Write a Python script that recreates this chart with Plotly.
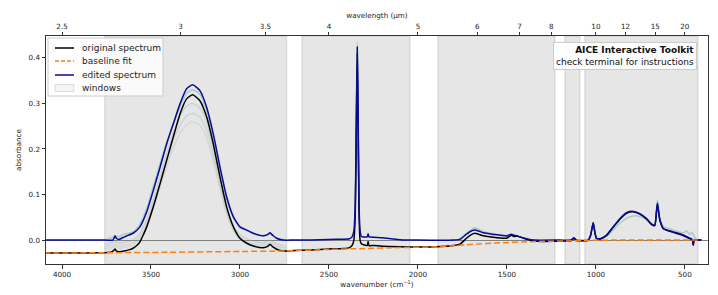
import plotly.graph_objects as go

# ---------------- data ----------------
orig_wn = [4100, 3950, 3800, 3760, 3720, 3708, 3702, 3695, 3680, 3650, 3620, 3601, 3580, 3562, 3545,
           3524, 3487, 3449, 3412, 3375, 3337, 3300, 3266, 3225, 3187, 3150, 3112, 3075, 3037, 3000,
           2962, 2925, 2869, 2845, 2831, 2815, 2794, 2757, 2720, 2600, 2500, 2420, 2385, 2370, 2360,
           2352, 2346, 2341, 2336, 2331, 2325, 2318, 2300, 2285, 2280, 2275, 2250, 2200, 2100, 2000,
           1900, 1800, 1764, 1727, 1700, 1680, 1660, 1633, 1577, 1502, 1485, 1474, 1460, 1446, 1427,
           1390, 1352, 1300, 1200, 1140, 1124, 1110, 1043, 1030, 1015, 1005, 996, 978, 960, 940,
           903, 865, 828, 790, 753, 715, 687, 669, 660, 654, 647, 640, 621, 565, 509,
           472, 458, 453, 448, 430, 405]
orig_abs = [-0.0285, -0.0283, -0.028, -0.0278, -0.026, -0.022, -0.0195, -0.024, -0.0255, -0.024, -0.021, -0.018, -0.012, -0.004, 0.01,
            0.029, 0.073, 0.124, 0.175, 0.226, 0.277, 0.31, 0.319, 0.306, 0.27, 0.211, 0.138, 0.073, 0.029, 0.004,
            -0.007, -0.013, -0.017, -0.014, -0.009, -0.015, -0.02, -0.024, -0.0235, -0.0215, -0.0195, -0.0185, -0.0165, -0.012, 0.0,
            0.06, 0.25, 0.41, 0.25, 0.06, 0.0, -0.008, -0.011, -0.012, -0.003, -0.012, -0.012, -0.0135, -0.0146, -0.0152,
            -0.0148, -0.012, -0.009, 0.004, 0.012, 0.015, 0.013, 0.0095, 0.006, 0.004, 0.008, 0.011, 0.008, 0.009, 0.007,
            0.0015, -0.0015, -0.003, -0.0022, -0.0015, 0.004, -0.001, -0.0005, 0.01, 0.0375, 0.015, 0.003, 0.002, 0.005, 0.01,
            0.028, 0.046, 0.059, 0.062, 0.057, 0.046, 0.034, 0.032, 0.06, 0.08, 0.06, 0.043, 0.025, 0.017, 0.01,
            0.003, 0.001, -0.011, 0.0, 0.0, 0.0]

base_wn = [4100, 3760, 3400, 3000, 2740, 2500, 2300, 2100, 1900, 1800, 1700, 1540, 1370, 1200, 1050, 900, 405]
base_abs = [-0.0285, -0.0278, -0.0268, -0.025, -0.0237, -0.0205, -0.0185, -0.0165, -0.0148, -0.0125, -0.0095, -0.006, -0.0036, -0.002, -0.0008, 0.0, 0.0]

edit_wn = [4100, 3760, 3715, 3708, 3702, 3695, 3680, 3660, 3637, 3601, 3562, 3524, 3487, 3449, 3412,
           3375, 3337, 3300, 3266, 3225, 3187, 3150, 3112, 3075, 3037, 3000, 2962, 2925, 2869, 2845,
           2831, 2815, 2794, 2757, 2700, 2600, 2500, 2420, 2385, 2370, 2360, 2352, 2346, 2341, 2336,
           2331, 2325, 2318, 2300, 2285, 2280, 2275, 2250, 2200, 2150, 2100, 2000, 1800, 1764, 1727,
           1700, 1680, 1660, 1633, 1577, 1502, 1485, 1474, 1460, 1446, 1427, 1390, 1352, 1200, 1140,
           1124, 1110, 1043, 1030, 1015, 1005, 996, 978, 960, 940, 903, 865, 828, 790, 753,
           715, 687, 669, 660, 654, 647, 640, 621, 565, 509, 472, 458, 453, 448, 430, 405]
edit_abs = [0.0, 0.0, 0.0, 0.004, 0.0095, 0.004, 0.0015, 0.005, 0.009, 0.015, 0.029, 0.062, 0.109, 0.16, 0.211,
            0.255, 0.299, 0.332, 0.341, 0.328, 0.291, 0.233, 0.16, 0.095, 0.051, 0.029, 0.022, 0.015, 0.0095, 0.012,
            0.016, 0.01, 0.004, 0.0, 0.0, 0.0, 0.0015, 0.002, 0.003, 0.007, 0.02, 0.08, 0.27, 0.424, 0.27,
            0.08, 0.02, 0.008, 0.007, 0.007, 0.014, 0.007, 0.006, 0.005, 0.003, 0.001, 0.0, 0.0, 0.0015, 0.013,
            0.02, 0.022, 0.02, 0.016, 0.0125, 0.009, 0.012, 0.013, 0.0105, 0.0095, 0.007, 0.003, 0.0, 0.0, 0.0,
            0.005, 0.0, 0.0, 0.01, 0.0385, 0.015, 0.004, 0.003, 0.006, 0.011, 0.029, 0.047, 0.06, 0.063, 0.058,
            0.047, 0.035, 0.033, 0.06, 0.0815, 0.06, 0.044, 0.0255, 0.018, 0.011, 0.004, 0.001, -0.011, 0.0, 0.0, 0.0]

# faint intermediate spectra (earlier edits)
band_wn = [3760, 3702, 3680, 3650, 3600, 3562, 3524, 3487, 3449, 3412, 3375, 3337, 3300, 3266,
           3225, 3187, 3150, 3112, 3075, 3037, 3000, 2962, 2925, 2869, 2831, 2794, 2757, 2740]
ghost_teal_band = [0.0, 0.008, 0.008, 0.013, 0.018, 0.035, 0.07, 0.118, 0.168, 0.215, 0.255, 0.293, 0.322, 0.33,
                   0.32, 0.285, 0.226, 0.153, 0.09, 0.049, 0.028, 0.021, 0.014, 0.009, 0.014, 0.004, 0.0, 0.0]
ghost_grey1_band = [-0.01, -0.004, -0.007, -0.005, 0.0, 0.015, 0.045, 0.09, 0.14, 0.19, 0.235, 0.272, 0.294, 0.3,
                    0.29, 0.258, 0.2, 0.132, 0.072, 0.032, 0.012, 0.003, -0.002, -0.006, 0.0, -0.008, -0.012, -0.013]
ghost_grey2_band = [-0.015, -0.01, -0.013, -0.011, -0.006, 0.008, 0.036, 0.08, 0.128, 0.175, 0.218, 0.252, 0.272, 0.278,
                    0.27, 0.24, 0.186, 0.122, 0.064, 0.026, 0.006, -0.003, -0.008, -0.011, -0.005, -0.013, -0.017, -0.018]
ghost_grey3_band = [-0.02, -0.015, -0.018, -0.016, -0.011, 0.002, 0.028, 0.07, 0.116, 0.161, 0.202, 0.234, 0.253, 0.26,
                    0.252, 0.224, 0.173, 0.112, 0.057, 0.02, 0.001, -0.008, -0.012, -0.015, -0.01, -0.017, -0.021, -0.022]

cotwo_wn = [2352, 2346, 2341, 2336, 2331]
ghost_cotwo = [0.07, 0.28, 0.433, 0.28, 0.07]

mid_wn = [1780, 1740, 1700, 1680, 1660, 1620, 1560, 1500, 1450, 1400, 1350]
ghost_mid = [0.0, 0.011, 0.023, 0.027, 0.024, 0.017, 0.013, 0.01, 0.009, 0.004, 0.0]

low_wn = [1000, 960, 940, 903, 865, 828, 790, 753, 715, 687, 669, 660, 654, 647, 640, 621, 565,
          509, 490, 472, 460, 440, 430]
ghost_low = [0.003, 0.004, 0.008, 0.022, 0.037, 0.048, 0.053, 0.052, 0.045, 0.036, 0.034, 0.065, 0.088, 0.065, 0.047, 0.03, 0.022,
             0.016, 0.02, 0.012, 0.017, 0.003, 0.0]

windows_lo = [3760, 2652, 1888, 1174, 1062]
windows_hi = [2738, 2045, 1230, 1090, 427]

legend_labels = ["original spectrum", "baseline fit", "edited spectrum", "windows"]

wl_ticks = [2.5, 3, 3.5, 4, 5, 6, 7, 8, 10, 12, 15, 20]
wn_ticks = [4000, 3500, 3000, 2500, 2000, 1500, 1000, 500]
y_ticks = [0.0, 0.1, 0.2, 0.3, 0.4]

X_RANGE = [4090, 370]
Y_RANGE = [-0.0525, 0.448]

# ---------------- layout geometry (pixels) ----------------
W, H = 718, 295
L, R, T, B = 46, 10, 36, 31
PW, PH = W - L - R, H - T - B


def px(xp):
    return (xp - L) / PW


def py(yp):
    return (H - B - yp) / PH


BLACK = "black"
ORANGE = "#ff7f0e"
BLUE = "#0a0a96"
WIN_FILL = "rgba(128,128,128,0.2)"

fig = go.Figure()

ghosts = [
    (band_wn, ghost_grey3_band, "rgba(170,170,170,0.25)"),
    (band_wn, ghost_grey2_band, "rgba(160,175,175,0.3)"),
    (band_wn, ghost_grey1_band, "rgba(140,175,170,0.3)"),
    (band_wn, ghost_teal_band, "rgba(90,175,160,0.45)"),
    (cotwo_wn, ghost_cotwo, "rgba(120,200,120,0.5)"),
    (mid_wn, ghost_mid, "rgba(90,175,160,0.45)"),
    (low_wn, ghost_low, "rgba(90,175,160,0.45)"),
]
for gx, gy, col in ghosts:
    fig.add_trace(go.Scatter(x=gx, y=gy, mode="lines", showlegend=False, hoverinfo="skip",
                             line=dict(color=col, width=1.5, shape="spline", smoothing=0.6)))

fig.add_trace(go.Scatter(x=orig_wn, y=orig_abs, mode="lines", name=legend_labels[0], showlegend=False,
                         line=dict(color=BLACK, width=1.5, shape="spline", smoothing=0.5)))
fig.add_trace(go.Scatter(x=edit_wn, y=edit_abs, mode="lines", name=legend_labels[2], showlegend=False,
                         line=dict(color=BLUE, width=1.5, shape="spline", smoothing=0.5)))
fig.add_trace(go.Scatter(x=base_wn, y=base_abs, mode="lines", name=legend_labels[1], showlegend=False,
                         line=dict(color=ORANGE, width=1.5, dash="6px,3px", shape="spline", smoothing=0.6)))

# dummy trace anchoring the top (wavelength) axis
fig.add_trace(go.Scatter(x=X_RANGE, y=[0, 0], xaxis="x2", mode="lines", showlegend=False,
                         hoverinfo="skip", line=dict(color="rgba(0,0,0,0)", width=0)))

shapes = []
for lo, hi in zip(windows_lo, windows_hi):
    shapes.append(dict(type="rect", xref="x", yref="paper", x0=lo, x1=hi, y0=0, y1=1,
                       fillcolor=WIN_FILL, line=dict(color=WIN_FILL, width=1.5), layer="below"))

# hand-drawn legend (matplotlib-like compact spacing)
shapes.append(dict(type="rect", xref="paper", yref="paper", x0=px(48), x1=px(163), y0=py(96), y1=py(38),
                   fillcolor="rgba(255,255,255,0.8)", line=dict(color="#cccccc", width=1), layer="above"))
rows = [48, 61, 75, 88]
shapes.append(dict(type="line", xref="paper", yref="paper", x0=px(55), x1=px(74), y0=py(rows[0]), y1=py(rows[0]),
                   line=dict(color=BLACK, width=1.5), layer="above"))
shapes.append(dict(type="line", xref="paper", yref="paper", x0=px(55), x1=px(74), y0=py(rows[1]), y1=py(rows[1]),
                   line=dict(color=ORANGE, width=1.5, dash="4px,2px"), layer="above"))
shapes.append(dict(type="line", xref="paper", yref="paper", x0=px(55), x1=px(74), y0=py(rows[2]), y1=py(rows[2]),
                   line=dict(color=BLUE, width=1.5), layer="above"))
shapes.append(dict(type="rect", xref="paper", yref="paper", x0=px(55), x1=px(74), y0=py(rows[3] + 3.5),
                   y1=py(rows[3] - 3.5), fillcolor="rgba(128,128,128,0.08)",
                   line=dict(color="rgba(128,128,128,0.25)", width=1), layer="above"))

annotations = []
for lab, r in zip(legend_labels, rows):
    annotations.append(dict(xref="paper", yref="paper", x=px(80), y=py(r), xanchor="left", yanchor="middle",
                            text=lab, showarrow=False,
                            font=dict(family="DejaVu Sans", size=9, color="#222")))

annotations.append(dict(xref="paper", yref="paper", x=px(697), y=py(42), xanchor="right", yanchor="top",
                        align="right", showarrow=False,
                        text="<b>AICE Interactive Toolkit</b><br>check terminal for instructions",
                        font=dict(family="DejaVu Sans", size=9, color="#111"),
                        bgcolor="rgba(255,255,255,0.9)", bordercolor="#cccccc", borderwidth=1, borderpad=2))

axis_font = dict(family="DejaVu Sans", size=7.2, color="#222")
fig.update_layout(
    width=W, height=H,
    margin=dict(l=L, r=R, t=T, b=B, autoexpand=False),
    paper_bgcolor="white", plot_bgcolor="white",
    font=dict(family="DejaVu Sans", size=9, color="#222"),
    showlegend=False,
    xaxis=dict(range=X_RANGE, tickvals=wn_ticks, ticks="outside", ticklen=3.5, tickwidth=0.8,
               tickcolor="#333", showline=True, linecolor="#333", linewidth=1, mirror=True,
               showgrid=False, zeroline=False, tickfont=axis_font, automargin=False,
               title=dict(text="wavenumber (cm<sup>−1</sup>)", font=axis_font, standoff=2)),
    xaxis2=dict(range=X_RANGE, overlaying="x", side="top", anchor="y",
                tickvals=[10000 / w for w in wl_ticks], ticktext=[f"{w:g}" for w in wl_ticks],
                ticks="outside", ticklen=3.5, tickwidth=0.8, tickcolor="#333", showline=False,
                showgrid=False, zeroline=False, tickfont=axis_font, automargin=False,
                title=dict(text="wavelength (μm)", font=axis_font, standoff=2)),
    yaxis=dict(range=Y_RANGE, tickvals=y_ticks, tickformat=".1f", ticks="outside", ticklen=3.5,
               tickwidth=0.8, tickcolor="#333", showline=True, linecolor="#333", linewidth=1,
               mirror=True, showgrid=False, zeroline=True, zerolinecolor="#808080", zerolinewidth=1,
               tickfont=axis_font, automargin=False,
               title=dict(text="absorbance", font=axis_font, standoff=6)),
    shapes=shapes,
    annotations=annotations,
)

fig.write_html("out.html", config={"displayModeBar": False},
               post_script="document.body.style.margin='0';document.body.style.overflow='hidden';")
